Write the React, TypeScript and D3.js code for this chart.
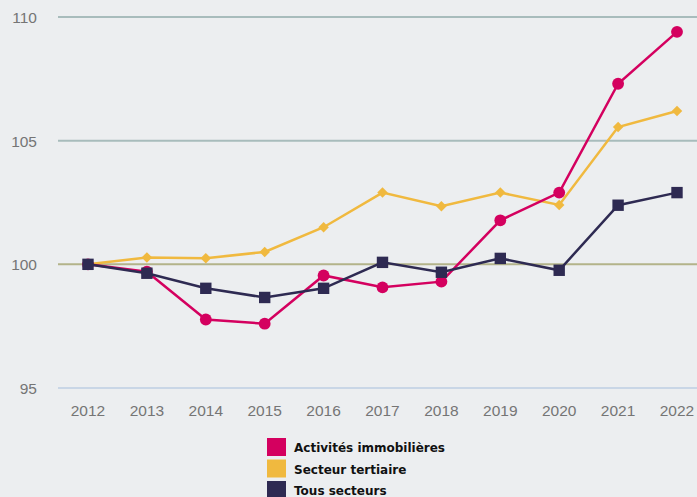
import React, { useEffect, useRef } from 'react';
import * as d3 from 'd3';

const years = [2012, 2013, 2014, 2015, 2016, 2017, 2018, 2019, 2020, 2021, 2022];
const immobilier = [100, 99.7, 97.77, 97.6, 99.55, 99.07, 99.3, 101.78, 102.9, 107.3, 109.4];
const tertiaire = [100, 100.28, 100.25, 100.5, 101.5, 102.9, 102.35, 102.9, 102.4, 105.55, 106.2];
const tous = [100, 99.64, 99.03, 98.66, 99.03, 100.08, 99.68, 100.24, 99.76, 102.39, 102.9];
const yTicks = [95, 100, 105, 110];
const seriesNames = ['Activités immobilières', 'Secteur tertiaire', 'Tous secteurs'];
const seriesColors = ['#d4005f', '#f0b93f', '#2e2a52'];
const seriesShapes = ['circle', 'diamond', 'square'];

const W = 697;
const H = 497;

export default function App() {
  const ref = useRef<SVGSVGElement>(null);

  useEffect(() => {
    const svg = d3.select(ref.current);
    svg.selectAll('*').remove();

    svg.append('rect').attr('width', W).attr('height', H).attr('fill', '#eceef0');

    const x = d3.scalePoint<number>().domain(years).range([88, 677]);
    const y = d3.scaleLinear().domain([95, 110]).range([388, 17]);

    // grid
    const gridColor = (t: number) => (t === 100 ? '#b3b38a' : t === 95 ? '#c9d6e6' : '#a8bcbc');
    svg.append('g').selectAll('line').data(yTicks).enter().append('line')
      .attr('x1', 58).attr('x2', W)
      .attr('y1', (d) => y(d)).attr('y2', (d) => y(d))
      .attr('stroke', gridColor).attr('stroke-width', 2);

    svg.append('g').selectAll('text').data(yTicks).enter().append('text')
      .attr('x', 37).attr('y', (d) => y(d) + 6)
      .attr('text-anchor', 'end')
      .attr('font-family', 'Liberation Sans, Arial, sans-serif')
      .attr('font-size', 15.5).attr('fill', '#757575')
      .text((d) => d);

    svg.append('g').selectAll('text').data(years).enter().append('text')
      .attr('x', (d) => x(d)!).attr('y', 416)
      .attr('text-anchor', 'middle')
      .attr('font-family', 'Liberation Sans, Arial, sans-serif')
      .attr('font-size', 15.5).attr('fill', '#757575')
      .text((d) => d);

    const all = [immobilier, tertiaire, tous];
    const line = d3.line<number>().x((_, i) => x(years[i])!).y((d) => y(d));
    const order = [1, 0, 2];
    order.forEach((si) => {
      const vals = all[si];
      const g = svg.append('g');
      g.append('path').attr('d', line(vals)).attr('fill', 'none')
        .attr('stroke', seriesColors[si]).attr('stroke-width', 2.5);
      const shape = seriesShapes[si];
      const sym = shape === 'circle' ? d3.symbolCircle : d3.symbolSquare;
      const size = shape === 'circle' ? 110 : shape === 'diamond' ? 55 : 130;
      const rot = shape === 'diamond' ? ' rotate(45)' : '';
      g.selectAll('path.m').data(vals).enter().append('path')
        .attr('class', 'm')
        .attr('d', d3.symbol().type(sym).size(size)())
        .attr('transform', (d, i) => 'translate(' + x(years[i]) + ',' + y(d) + ')' + rot)
        .attr('fill', seriesColors[si]);
    });

    const legend = svg.append('g');
    seriesNames.forEach((name, i) => {
      const ly = 438 + i * 21.5;
      legend.append('rect').attr('x', 267).attr('y', ly).attr('width', 19).attr('height', 18)
        .attr('fill', seriesColors[i]);
      legend.append('text').attr('x', 294).attr('y', ly + 14)
        .attr('font-family', 'DejaVu Sans, sans-serif').attr('font-weight', 'bold')
        .attr('font-size', 12).attr('fill', '#111')
        .text(name);
    });
  }, []);

  return (
    <svg ref={ref} width={W} height={H} style={{ position: 'absolute', left: 0, top: 0 }} />
  );
}
